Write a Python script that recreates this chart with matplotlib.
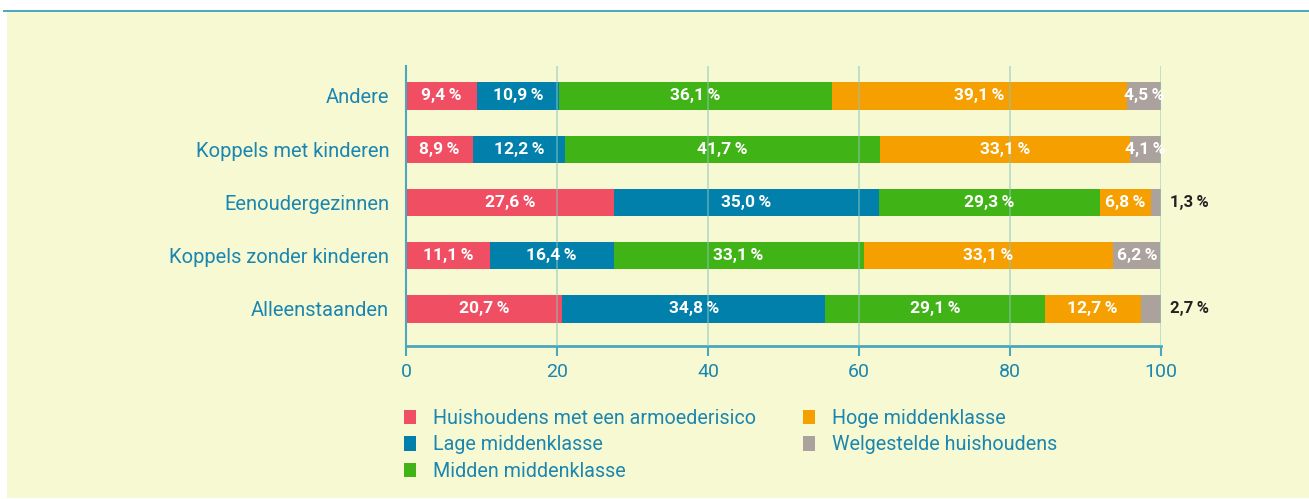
import matplotlib
matplotlib.use("Agg")
import matplotlib.pyplot as plt
from matplotlib.patches import Rectangle, Patch
import numpy as np

categories = ["Andere", "Koppels met kinderen", "Eenoudergezinnen",
              "Koppels zonder kinderen", "Alleenstaanden"]
series_names = ["Huishoudens met een armoederisico", "Lage middenklasse",
                "Midden middenklasse", "Hoge middenklasse", "Welgestelde huishoudens"]
armoede = [9.4, 8.9, 27.6, 11.1, 20.7]
lage = [10.9, 12.2, 35.0, 16.4, 34.8]
midden = [36.1, 41.7, 29.3, 33.1, 29.1]
hoge = [39.1, 33.1, 6.8, 33.1, 12.7]
welgesteld = [4.5, 4.1, 1.3, 6.2, 2.7]
xticks = [0, 20, 40, 60, 80, 100]

colors = ["#F04E62", "#0080AA", "#40B316", "#F5A000", "#ABA19D"]
bg = "#F7F9D3"
txt = "#1B86B0"
axcol = "#4AA8BE"

plt.rcParams['font.family'] = ['Roboto', 'DejaVu Sans']

fig = plt.figure(figsize=(13.09, 4.99), dpi=100)
fig.patch.set_facecolor("white")
fig.add_artist(Rectangle((7/1309, 1/499), 1 - 7/1309, 1 - 13/499,
                         transform=fig.transFigure, facecolor=bg, edgecolor="none", zorder=0))
fig.add_artist(Rectangle((3/1309, 1 - 12/499), 1 - 3/1309, 2/499,
                         transform=fig.transFigure, facecolor="#4FA9BE", edgecolor="none", zorder=0))

ax = fig.add_axes([406/1309, 1 - 346/499, 755/1309, 280/499])
ax.set_facecolor("none")

data = [armoede, lage, midden, hoge, welgesteld]
n = len(categories)
ypos = np.arange(n)[::-1]
left = np.zeros(n)
for s, (vals, col, name) in enumerate(zip(data, colors, series_names)):
    vals = np.array(vals)
    ax.barh(ypos, vals, left=left, height=0.51, color=col, label=name, zorder=2)
    for y, l, v in zip(ypos, left, vals):
        lab = f"{v:.1f}".replace(".", ",") + "\u2009%"
        if v < 3:
            ax.text(100 + 1.2, y, lab, ha="left", va="center", color="#222222",
                    fontsize=12, fontweight="bold", zorder=4)
        else:
            ax.text(l + v / 2, y, lab, ha="center", va="center", color="white",
                    fontsize=12.5, fontweight="semibold", zorder=4)
    left = left + vals

ax.set_xlim(0, 100)
ax.set_ylim(-0.695, 4.563)
ax.set_xticks(xticks)
ax.set_xticklabels([str(t) for t in xticks])
ax.set_yticks(ypos)
ax.set_yticklabels(categories)
for x in xticks[1:]:
    ax.axvline(x, color="#8CC6BC", alpha=0.55, lw=1.3, zorder=3)

for sp in ["top", "right"]:
    ax.spines[sp].set_visible(False)
ax.spines["left"].set_color(axcol)
ax.spines["left"].set_linewidth(1.5)
ax.spines["bottom"].set_color(axcol)
ax.spines["bottom"].set_linewidth(2)
ax.tick_params(axis="y", length=0, pad=12, labelsize=14.5, labelcolor=txt)
ax.tick_params(axis="x", length=7, width=1.5, color=axcol, pad=5, labelsize=14, labelcolor=txt)

handles = [Patch(facecolor=c, edgecolor="none") for c in colors]
leg = fig.legend(handles, series_names, loc="upper left",
                 bbox_to_anchor=(404/1309, 1 - 409/499), ncol=2, frameon=False,
                 fontsize=14.2, handlelength=0.6, handleheight=0.75, handletextpad=0.85,
                 labelspacing=0.38, columnspacing=2.4, borderpad=0, borderaxespad=0)
for t in leg.get_texts():
    t.set_color(txt)

fig.savefig("out.png", dpi=100, facecolor=fig.get_facecolor())
